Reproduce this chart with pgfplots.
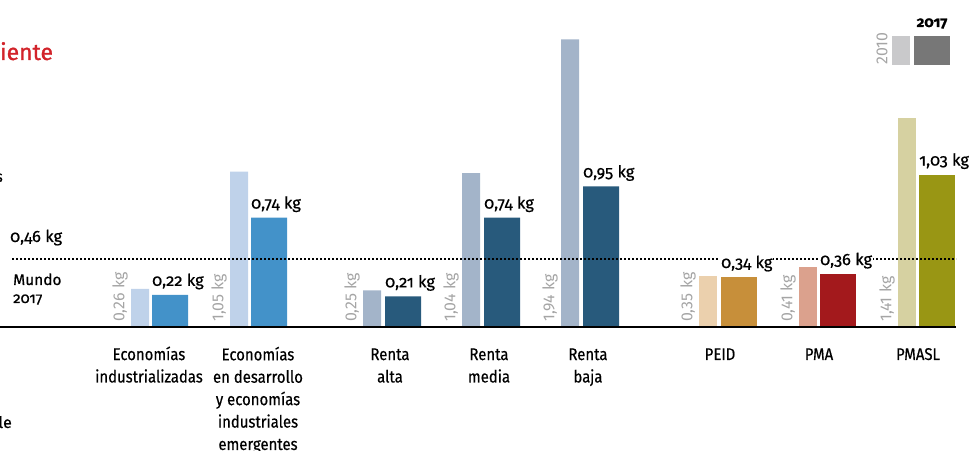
\documentclass[border=0pt]{standalone}
\usepackage{pgfplots}
\pgfplotsset{compat=1.18}
\usepackage{fontspec}
\setmainfont{Fira Sans}
\newfontfamily\osf[Numbers=OldStyle, FakeBold=0.6]{Fira Sans}
\newfontfamily\med[FakeBold=0.6]{Fira Sans}
\newfontfamily\ttl[FakeBold=1.2]{Fira Sans}
\newfontfamily\cond[FakeStretch=0.88, FakeBold=0.5]{Fira Sans}

\definecolor{econL}{HTML}{BFD2EA}
\definecolor{econD}{HTML}{4392C9}
\definecolor{rentaL}{HTML}{A3B4C9}
\definecolor{rentaD}{HTML}{285A7C}
\definecolor{peidL}{HTML}{EBD0AD}
\definecolor{peidD}{HTML}{C78F3A}
\definecolor{pmaL}{HTML}{DBA18D}
\definecolor{pmaD}{HTML}{A3191C}
\definecolor{pmaslL}{HTML}{D6D1A1}
\definecolor{pmaslD}{HTML}{999614}
\definecolor{titlered}{HTML}{D2232A}
\definecolor{grayt}{HTML}{A5A5A5}
\definecolor{lgray}{HTML}{C9C9CB}
\definecolor{dgray}{HTML}{777777}

\begin{document}
\begin{tikzpicture}[x=1bp,y=1bp]
\useasboundingbox (0,0) rectangle (969,451);
\begin{axis}[
  at={(0,0)}, anchor=south west,
  width=969bp, height=451bp, scale only axis,
  xmin=0, xmax=969, ymin=-0.8316, ymax=2.2054,
  hide axis, clip=false,
  bars/.style={ybar, bar width=18, bar shift=0pt, draw=none},
  wbars/.style={ybar, bar width=36, bar shift=0pt, draw=none},
]
% 2010
\addplot[bars, fill=econL] coordinates {(140,0.26) (239,1.05)};
\addplot[bars, fill=rentaL] coordinates {(372,0.25) (471,1.04) (570,1.94)};
\addplot[bars, fill=peidL] coordinates {(708,0.35)};
\addplot[bars, fill=pmaL] coordinates {(808,0.41)};
\addplot[bars, fill=pmaslL] coordinates {(907,1.41)};
% 2017
\addplot[wbars, fill=econD] coordinates {(170,0.22) (269,0.74)};
\addplot[wbars, fill=rentaD] coordinates {(403,0.21) (502,0.74) (601,0.95)};
\addplot[wbars, fill=peidD] coordinates {(739,0.34)};
\addplot[wbars, fill=pmaD] coordinates {(838,0.36)};
\addplot[wbars, fill=pmaslD] coordinates {(937,1.03)};
% mundo 2017
\addplot[black, line width=2bp, dash pattern=on 1.8bp off 2.2bp] coordinates {(12,0.46) (956,0.46)};
% base line
\addplot[black, line width=2bp] coordinates {(0,0) (956,0)};
% labels 2017
\addplot[draw=none, mark=none, point meta=y,
  nodes near coords={\pgfmathprintnumber[use comma, fixed, fixed zerofill, precision=2, assume math mode=true]{\pgfplotspointmeta}~kg},
  every node near coord/.append style={anchor=base west, xshift=-19bp, yshift=9bp, fill=white, inner sep=1bp, text=black, font=\osf\fontsize{16.5}{18}\selectfont}]
  coordinates {(170,0.22) (269,0.74) (403,0.21) (502,0.74) (601,0.95) (739,0.34) (838,0.36) (937,1.03)};
\end{axis}

% rotated 2010 values
\begin{scope}[every node/.style={rotate=90, anchor=west, inner sep=0, text=grayt, font=\fontsize{16}{18}\selectfont}]
\node at (120,129) {0,26 kg};
\node at (219,129) {1,05 kg};
\node at (352,129) {0,25 kg};
\node at (451,129) {1,04 kg};
\node at (550,129) {1,94 kg};
\node at (688,129) {0,35 kg};
\node at (788,129) {0,41 kg};
\node at (887,129) {1,41 kg};
\node at (882,386) {2010};
\end{scope}

% legend
\fill[lgray] (892,386) rectangle (910,415);
\fill[dgray] (914,386) rectangle (950,415);
\node[anchor=base, inner sep=0, font=\bfseries\osf\fontsize{15}{17}\selectfont] at (932,424) {2017};

% category labels (anchor = baseline of the last line)
\begin{scope}[every node/.style={align=center, anchor=base, inner sep=0, font=\cond\fontsize{17}{22.5}\selectfont}]
\node at (149,68.5) {Economías\\industrializadas};
\node at (258,1) {Economías\\en desarrollo\\y economías\\industriales\\emergentes};
\node at (390,68.5) {Renta\\alta};
\node at (489,68.5) {Renta\\media};
\node at (588,68.5) {Renta\\baja};
\node at (720,91) {PEID};
\node at (819,91) {PMA};
\node at (918,91) {PMASL};
\end{scope}

% left side texts
\node[anchor=base west, inner sep=0, text=titlered, font=\ttl\fontsize{23}{26}\selectfont] at (0,391) {iente};
\node[anchor=base east, inner sep=0, font=\med\fontsize{16}{18}\selectfont] at (3,269) {s};
\node[anchor=base west, inner sep=0, font=\osf\fontsize{16.5}{18}\selectfont] at (10,209) {0,46 kg};
\node[anchor=base west, inner sep=0, font=\med\fontsize{15.5}{18}\selectfont] at (13,166) {Mundo};
\node[anchor=base west, inner sep=0, font=\osf\fontsize{15}{18}\selectfont] at (13,148) {2017};
\node[anchor=base east, inner sep=0, font=\med\fontsize{16}{18}\selectfont] at (12,23) {le};
\end{tikzpicture}
\end{document}
